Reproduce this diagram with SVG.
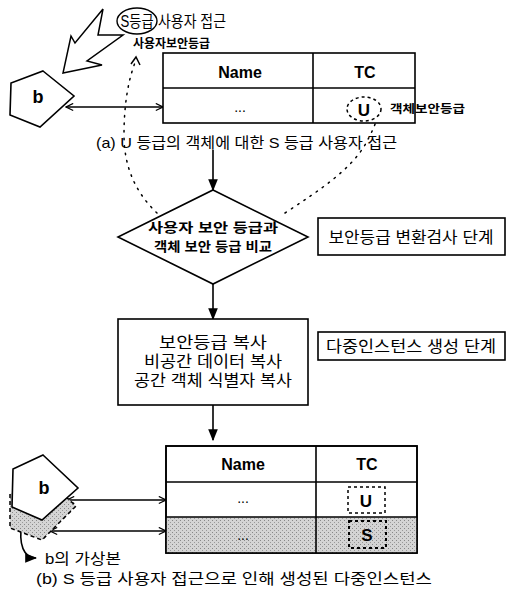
<svg xmlns="http://www.w3.org/2000/svg" width="507" height="596" viewBox="0 0 507 596">
<style>
.t{font-family:"Liberation Sans","Noto Sans CJK KR",sans-serif;fill:#000}
.b{font-weight:bold}
.ln{stroke:#000;stroke-width:1.6;fill:none}
.dot{stroke:#000;stroke-width:1.5;fill:none;stroke-dasharray:1.5 6;stroke-linecap:round}
.box{fill:#fff;stroke:#000;stroke-width:1.6}
</style>
<defs>
<marker id="open" viewBox="0 0 10 10" refX="9" refY="5" markerWidth="9" markerHeight="9" orient="auto-start-reverse" markerUnits="userSpaceOnUse">
<path d="M1,1 L9,5 L1,9" fill="none" stroke="#000" stroke-width="1.3"/>
</marker>
<marker id="fill" viewBox="0 0 10 10" refX="9" refY="5" markerWidth="12" markerHeight="12" orient="auto" markerUnits="userSpaceOnUse">
<path d="M0,1 L10,5 L0,9 Z" fill="#000"/>
</marker>
<pattern id="stip" width="4" height="4" patternUnits="userSpaceOnUse">
<rect width="4" height="4" fill="#d4d4d4"/>
<rect x="0" y="0" width="1" height="1" fill="#888"/>
<rect x="2" y="2" width="1" height="1" fill="#999"/>
</pattern>
</defs>

<!-- connectors -->
<g id="connectors">
<line class="ln" x1="66" y1="107" x2="163" y2="107" marker-start="url(#open)" marker-end="url(#open)"/>
<line class="ln" x1="213" y1="150" x2="213" y2="190" marker-end="url(#fill)"/>
<line class="ln" x1="213" y1="284" x2="213" y2="319" marker-end="url(#fill)"/>
<line class="ln" x1="213" y1="405" x2="213" y2="440" marker-end="url(#fill)"/>
<path class="dot" d="M157,213 C138,195 124,170 124,135 C124,105 128,80 136,60"/>
<path d="M131,64 L136,57 L140,65" fill="none" stroke="#000" stroke-width="1.5"/>
<path class="dot" d="M285,213 C320,190 350,170 365,145 C372,132 377,122 378,112"/>
<path d="M372,114 L380,108 L385,116" fill="none" stroke="#000" stroke-width="1.3"/>
<line class="ln" x1="67" y1="500" x2="166" y2="500" marker-start="url(#open)" marker-end="url(#open)"/>
<line class="ln" x1="50" y1="531" x2="166" y2="531" marker-start="url(#open)" marker-end="url(#open)"/>
<path class="ln" d="M22,522 C18,545 24,558 36,558" marker-end="url(#fill)"/>
</g>

<!-- lightning -->
<g id="access">
<polygon points="103,9 75,43 71,36 63,73 102,65 87,61 123,35 98,35" fill="#fff" stroke="#000" stroke-width="1.5" stroke-linejoin="miter"/>
<ellipse cx="137" cy="21" rx="20" ry="13" fill="#fff" stroke="#000" stroke-width="1.4"/>
<text class="t" x="137" y="27" font-size="16" text-anchor="middle" textLength="33" lengthAdjust="spacingAndGlyphs">S등급</text>
<text class="t" x="158" y="27" font-size="16" textLength="68" lengthAdjust="spacingAndGlyphs">사용자 접근</text>
<text class="t b" x="133" y="48" font-size="12" textLength="77" lengthAdjust="spacingAndGlyphs">사용자보안등급</text>
</g>

<!-- pentagon b top -->
<g id="b-top">
<polygon class="box" points="43,71 74,96 40,127 10,115 11,83"/>
<text class="t b" x="38" y="103" font-size="18" text-anchor="middle">b</text>
</g>

<!-- top table -->
<g id="table-a">
<rect class="box" x="163" y="53" width="252" height="70"/>
<line class="ln" x1="163" y1="88" x2="415" y2="88"/>
<line class="ln" x1="313" y1="53" x2="313" y2="123"/>
<text class="t b" x="240" y="78" font-size="16" text-anchor="middle">Name</text>
<text class="t b" x="365" y="78" font-size="16" text-anchor="middle">TC</text>
<text class="t" x="240" y="112" font-size="14" text-anchor="middle">...</text>
<ellipse cx="364" cy="109" rx="17" ry="12" fill="#fff" stroke="#000" stroke-width="1.5" stroke-dasharray="3 3"/>
<text class="t b" x="364" y="116" font-size="17" text-anchor="middle">U</text>
<text class="t b" x="390" y="113" font-size="11" textLength="75" lengthAdjust="spacingAndGlyphs">객체보안등급</text>
</g>
<text class="t" x="96" y="148" font-size="15" textLength="301" lengthAdjust="spacingAndGlyphs">(a) U 등급의 객체에 대한 S 등급 사용자 접근</text>

<!-- diamond -->
<g id="compare">
<polygon class="box" points="213,190 308,237 213,284 118,237"/>
<text class="t b" x="213" y="232" font-size="13" text-anchor="middle" textLength="130" lengthAdjust="spacingAndGlyphs">사용자 보안 등급과</text>
<text class="t b" x="213" y="251" font-size="13" text-anchor="middle" textLength="118" lengthAdjust="spacingAndGlyphs">객체 보안 등급 비교</text>
</g>
<g id="stage1">
<rect class="box" x="318" y="218" width="187" height="37"/>
<text class="t" x="411" y="243" font-size="16" text-anchor="middle" textLength="165" lengthAdjust="spacingAndGlyphs">보안등급 변환검사 단계</text>
</g>

<!-- copy box -->
<g id="copy">
<rect class="box" x="118" y="319" width="190" height="86"/>
<text class="t" x="213" y="348" font-size="16" text-anchor="middle" textLength="108" lengthAdjust="spacingAndGlyphs">보안등급 복사</text>
<text class="t" x="213" y="367" font-size="16" text-anchor="middle" textLength="138" lengthAdjust="spacingAndGlyphs">비공간 데이터 복사</text>
<text class="t" x="213" y="386" font-size="16" text-anchor="middle" textLength="158" lengthAdjust="spacingAndGlyphs">공간 객체 식별자 복사</text>
</g>
<g id="stage2">
<rect class="box" x="318" y="332" width="187" height="28"/>
<text class="t" x="411" y="352" font-size="16" text-anchor="middle" textLength="170" lengthAdjust="spacingAndGlyphs">다중인스턴스 생성 단계</text>
</g>

<!-- bottom pentagons -->
<g id="b-copy">
<polygon points="45,478 76,506 42,540 10,528 10,494" fill="url(#stip)" stroke="#000" stroke-width="1.5" stroke-dasharray="4 3"/>
<text class="t" x="45" y="564" font-size="15" textLength="76" lengthAdjust="spacingAndGlyphs">b의 가상본</text>
</g>
<g id="b-bottom">
<polygon class="box" points="43,455 78,488 42,520 12,507 13,469"/>
<text class="t b" x="44" y="494" font-size="18" text-anchor="middle">b</text>
</g>

<!-- bottom table -->
<g id="table-b">
<rect class="box" x="166" y="446" width="251" height="107"/>
<rect x="166" y="517" width="251" height="36" fill="url(#stip)"/>
<rect x="166" y="446" width="251" height="107" fill="none" stroke="#000" stroke-width="1.6"/>
<line class="ln" x1="166" y1="482" x2="417" y2="482"/>
<line class="ln" x1="166" y1="517" x2="417" y2="517"/>
<line class="ln" x1="316" y1="446" x2="316" y2="553"/>
<text class="t b" x="243" y="470" font-size="16" text-anchor="middle">Name</text>
<text class="t b" x="367" y="470" font-size="16" text-anchor="middle">TC</text>
<text class="t" x="243" y="503" font-size="14" text-anchor="middle">...</text>
<rect x="348" y="487" width="37" height="26" fill="#fff" stroke="#000" stroke-width="1.5" stroke-dasharray="3 3"/>
<text class="t b" x="366" y="507" font-size="17" text-anchor="middle">U</text>
<text class="t" x="243" y="540" font-size="14" text-anchor="middle">...</text>
<rect x="349" y="521" width="37" height="27" fill="url(#stip)" stroke="#000" stroke-width="2" stroke-dasharray="3 3"/>
<text class="t b" x="367" y="541" font-size="17" text-anchor="middle">S</text>
</g>
<text class="t" x="36" y="584" font-size="15" textLength="396" lengthAdjust="spacingAndGlyphs">(b) S 등급 사용자 접근으로 인해 생성된 다중인스턴스</text>
</svg>
